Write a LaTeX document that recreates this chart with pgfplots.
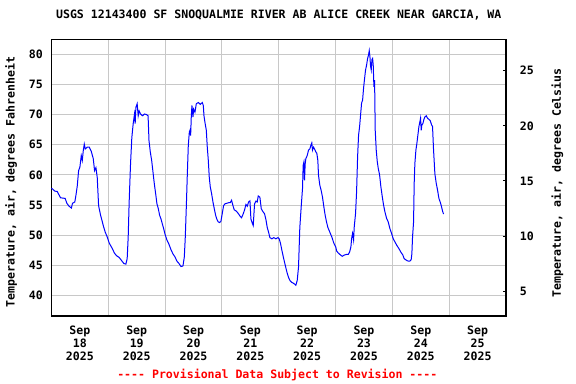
\documentclass[border=0pt]{standalone}
\usepackage{pgfplots}
\pgfplotsset{compat=1.18}
\usepackage{fontspec}
\setmonofont{DejaVu Sans Mono}
\newcommand\uf{\ttfamily\bfseries\fontsize{11.6}{13}\selectfont}
\definecolor{gridgray}{RGB}{200,200,200}
\definecolor{usgsblue}{RGB}{0,0,255}

\pgfplotstableread{
day F
0.000 57.8
0.060 57.3
0.100 57.25
0.120 56.9
0.160 56.2
0.240 56.1
0.270 55.3
0.310 54.8
0.350 54.5
0.370 55.3
0.410 55.5
0.430 56.6
0.454 58.2
0.477 60.7
0.500 61.3
0.524 63.2
0.542 62.4
0.559 64.0
0.577 65.1
0.594 64.3
0.630 64.6
0.665 64.6
0.700 63.9
0.735 62.7
0.758 60.7
0.782 61.2
0.805 59.6
0.829 54.9
0.864 53.3
0.887 52.5
0.911 51.6
0.946 50.5
0.981 49.7
1.016 48.7
1.063 47.9
1.110 47.0
1.145 46.6
1.192 46.3
1.233 45.8
1.274 45.3
1.309 45.2
1.332 46.1
1.350 49.7
1.367 55.5
1.391 61.8
1.414 66.2
1.438 68.5
1.461 70.1
1.473 68.5
1.485 71.2
1.508 71.8
1.526 69.8
1.543 70.6
1.567 70.1
1.602 69.8
1.637 70.1
1.672 70.0
1.700 69.8
1.716 65.7
1.739 63.8
1.763 62.4
1.786 60.5
1.810 58.5
1.833 56.9
1.856 55.2
1.880 54.4
1.903 53.3
1.927 52.7
1.950 51.9
1.974 51.1
1.997 50.2
2.032 49.2
2.067 48.5
2.103 47.6
2.138 46.9
2.173 46.4
2.208 45.7
2.244 45.3
2.279 44.8
2.314 44.9
2.338 46.4
2.355 49.7
2.373 54.7
2.390 59.9
2.408 64.9
2.426 67.1
2.437 67.4
2.449 66.5
2.461 69.8
2.472 71.5
2.490 69.6
2.502 70.9
2.525 70.4
2.549 71.8
2.584 72.0
2.619 71.7
2.654 72.0
2.672 71.5
2.684 69.8
2.701 68.7
2.725 67.4
2.742 64.6
2.760 62.4
2.777 59.6
2.795 58.0
2.818 56.9
2.842 55.5
2.865 54.4
2.889 53.3
2.912 52.6
2.936 52.2
2.959 52.1
2.982 52.3
3.006 53.6
3.029 54.9
3.053 55.2
3.088 55.3
3.123 55.4
3.147 55.4
3.170 55.8
3.194 54.9
3.217 54.2
3.252 54.0
3.288 53.6
3.323 53.1
3.346 52.9
3.375 53.55
3.399 54.2
3.422 55.1
3.446 54.8
3.469 55.5
3.493 55.7
3.510 52.7
3.534 52.0
3.551 51.6
3.574 55.2
3.598 55.65
3.621 55.5
3.639 56.5
3.668 56.3
3.692 54.4
3.715 54.0
3.750 53.55
3.774 52.6
3.797 51.3
3.821 50.5
3.844 49.6
3.879 49.4
3.914 49.6
3.949 49.4
3.985 49.6
4.008 49.4
4.032 48.6
4.055 47.5
4.078 46.5
4.102 45.5
4.125 44.6
4.149 43.7
4.172 43.0
4.196 42.5
4.225 42.2
4.254 42.05
4.278 41.9
4.301 41.7
4.325 42.5
4.348 44.7
4.371 51.3
4.395 54.7
4.418 57.7
4.430 61.6
4.442 62.1
4.454 59.1
4.465 61.8
4.477 62.7
4.501 63.2
4.524 64.1
4.547 64.3
4.565 64.9
4.582 65.3
4.594 64.1
4.612 64.6
4.635 64.2
4.653 63.8
4.670 63.6
4.688 62.4
4.700 59.9
4.723 58.3
4.747 57.4
4.770 56.3
4.794 54.7
4.817 53.3
4.841 52.2
4.864 51.3
4.899 50.5
4.934 49.7
4.969 48.7
5.005 48.0
5.018 47.4
5.047 47.05
5.077 46.8
5.118 46.5
5.153 46.7
5.188 46.8
5.223 46.8
5.247 47.2
5.270 48.05
5.282 49.4
5.299 50.3
5.317 49.2
5.329 51.4
5.352 53.6
5.370 57.2
5.388 63.0
5.405 66.6
5.423 68.0
5.440 69.9
5.458 71.9
5.476 72.4
5.493 74.4
5.511 76.0
5.528 77.4
5.546 78.2
5.564 79.3
5.581 79.9
5.593 80.6
5.605 79.6
5.616 78.0
5.628 77.4
5.640 79.1
5.652 79.3
5.663 78.2
5.675 74.6
5.687 75.7
5.698 67.4
5.716 64.1
5.734 62.2
5.751 61.1
5.775 60.0
5.798 58.0
5.822 56.4
5.845 55.0
5.868 53.9
5.898 52.8
5.927 52.2
5.956 51.1
5.986 50.3
6.015 49.4
6.044 48.9
6.079 48.3
6.114 47.8
6.149 47.2
6.185 46.7
6.208 46.1
6.232 45.95
6.255 45.8
6.279 45.7
6.308 45.7
6.331 45.95
6.343 46.9
6.355 49.7
6.373 52.2
6.384 58.6
6.396 61.9
6.414 64.1
6.431 65.2
6.449 66.6
6.467 68.0
6.484 68.8
6.496 69.4
6.508 67.4
6.519 68.3
6.537 68.5
6.555 69.2
6.572 69.6
6.596 69.8
6.619 69.4
6.643 69.2
6.666 69.0
6.690 68.3
6.707 68.0
6.725 64.1
6.748 60.2
6.772 58.6
6.795 57.5
6.819 56.1
6.842 55.5
6.866 54.7
6.883 54.0
6.901 53.5
}\airtemp

\begin{document}
\begin{tikzpicture}[font=\uf]
\begin{axis}[
  at={(51.5bp,68bp)}, anchor=south west,
  scale only axis, width=454.5bp, height=276.5bp,
  xmin=0, xmax=8, ymin=36.6, ymax=82.45,
  clip=false,
  xtick={0.5,1.5,2.5,3.5,4.5,5.5,6.5,7.5},
  xticklabels={{Sep\\18\\2025},{Sep\\19\\2025},{Sep\\20\\2025},{Sep\\21\\2025},{Sep\\22\\2025},{Sep\\23\\2025},{Sep\\24\\2025},{Sep\\25\\2025}},
  xticklabel style={align=center, inner sep=0pt, yshift=-10bp, font=\uf},
  minor xtick={1,2,3,4,5,6,7},
  xmajorgrids=false, xminorgrids=true,
  ytick={40,45,50,55,60,65,70,75,80},
  ymajorgrids=true,
  major tick style={draw=none}, minor tick style={draw=none},
  major grid style={draw=gridgray, line width=1bp},
  minor grid style={draw=gridgray, line width=1bp},
  axis line style={black, line width=1.2bp},
  yticklabel style={inner sep=0pt, xshift=-8.5bp, font=\uf},
  /pgf/number format/assume math mode=true,
  ylabel={Temperature, air, degrees Fahrenheit},
  ylabel style={at={(axis description cs:-0.081,0.4846)}, anchor=base, inner sep=0pt, font=\uf},
  title={USGS 12143400 SF SNOQUALMIE RIVER AB ALICE CREEK NEAR GARCIA, WA},
  title style={at={(axis description cs:0.5,1)}, anchor=base, yshift=15.5bp, inner sep=0pt, font=\uf},
]
\addplot[usgsblue, line width=1bp, mark=none] table[x=day, y=F] {\airtemp};
\node[font=\uf, text=red, anchor=base, inner sep=0pt] at (axis description cs:0.4968,-0.2278) {---- Provisional Data Subject to Revision ----};
\end{axis}
\begin{axis}[
  at={(51.5bp,68bp)}, anchor=south west,
  scale only axis, width=454.5bp, height=276.5bp,
  xmin=0, xmax=8, ymin=2.75, ymax=27.83,
  axis x line=none, axis y line*=right,
  ytick={5,10,15,20,25},
  ytick align=inside, major tick length=3bp,
  tick style={black, line width=1bp},
  axis line style={black, line width=1.2bp},
  yticklabel style={inner sep=0pt, xshift=13.7bp, anchor=west, font=\uf},
  /pgf/number format/assume math mode=true,
  ylabel={Temperature, air, degrees Celsius},
  ylabel style={at={(axis description cs:1.121,0.481)}, anchor=base, rotate=0, inner sep=0pt, font=\uf},
]
\addplot[draw=none, forget plot] coordinates {(0,10)};
\end{axis}
\pgfresetboundingbox
\useasboundingbox (0,0) rectangle (576bp,384bp);
\end{tikzpicture}
\end{document}
